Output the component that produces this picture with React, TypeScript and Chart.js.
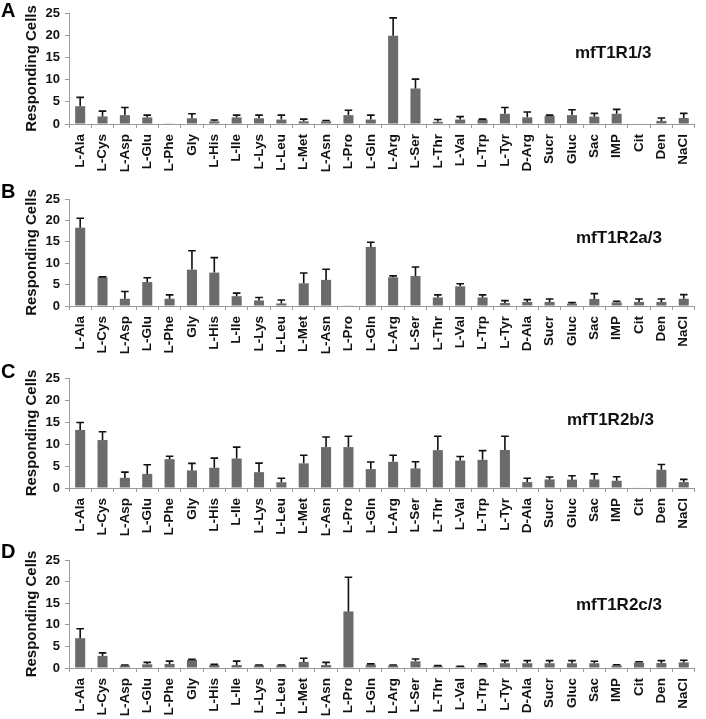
import React, { useEffect, useRef } from "react";
import { Chart, registerables } from "chart.js";

Chart.register(...registerables);

const FONT = '"Liberation Sans", Arial, Helvetica, sans-serif';

// ---------- data ----------
const categoriesA = [
  "L-Ala", "L-Cys", "L-Asp", "L-Glu", "L-Phe", "Gly", "L-His", "L-Ile", "L-Lys", "L-Leu",
  "L-Met", "L-Asn", "L-Pro", "L-Gln", "L-Arg", "L-Ser", "L-Thr", "L-Val", "L-Trp", "L-Tyr",
  "D-Arg", "Sucr", "Gluc", "Sac", "IMP", "Cit", "Den", "NaCl",
];
const categoriesBCD = [
  "L-Ala", "L-Cys", "L-Asp", "L-Glu", "L-Phe", "Gly", "L-His", "L-Ile", "L-Lys", "L-Leu",
  "L-Met", "L-Asn", "L-Pro", "L-Gln", "L-Arg", "L-Ser", "L-Thr", "L-Val", "L-Trp", "L-Tyr",
  "D-Ala", "Sucr", "Gluc", "Sac", "IMP", "Cit", "Den", "NaCl",
];
const yTickValues = [0, 5, 10, 15, 20, 25];

const meansA = [4.0, 1.7, 2.0, 1.5, 0.15, 1.3, 0.6, 1.5, 1.3, 1.0, 0.6, 0.6, 2.0, 1.0, 19.9, 8.0, 0.5, 1.0, 1.0, 2.3, 1.5, 1.8, 2.0, 1.65, 2.3, 0.1, 0.7, 1.35];
const semsA = [2.0, 1.2, 1.7, 0.5, 0, 1.0, 0.3, 0.5, 0.7, 1.0, 0.5, 0.2, 1.1, 1.0, 4.0, 2.1, 0.5, 0.65, 0.1, 1.4, 1.2, 0.2, 1.2, 0.75, 1.0, 0, 0.65, 1.05];

const meansB = [18.3, 6.7, 1.7, 5.6, 1.7, 8.5, 7.8, 2.3, 1.3, 0.6, 5.3, 6.1, 0.15, 13.8, 6.7, 7.0, 2.0, 4.6, 2.0, 0.7, 0.95, 0.95, 0.55, 1.65, 0.85, 0.95, 0.95, 1.7];
const semsB = [2.2, 0.1, 1.7, 1.0, 0.9, 4.4, 3.5, 0.7, 0.7, 0.8, 2.4, 2.5, 0, 1.1, 0.35, 2.1, 0.6, 0.6, 0.6, 0.55, 0.55, 0.7, 0.25, 1.25, 0.25, 0.7, 0.7, 0.95];

const meansC = [13.2, 10.9, 2.3, 3.2, 6.55, 4.0, 4.6, 6.7, 3.6, 1.3, 5.6, 9.3, 9.3, 4.3, 5.95, 4.45, 8.6, 6.25, 6.4, 8.65, 1.35, 1.95, 1.9, 1.95, 1.65, 0.1, 4.15, 1.35];
const semsC = [1.7, 1.9, 1.3, 2.1, 0.65, 1.6, 2.2, 2.6, 2.05, 0.9, 1.85, 2.3, 2.45, 1.6, 1.5, 1.5, 3.15, 0.9, 2.1, 3.1, 0.85, 0.55, 0.9, 1.25, 0.9, 0, 1.2, 0.6];

const meansD = [6.9, 2.8, 0.55, 0.85, 0.95, 1.85, 0.7, 0.7, 0.6, 0.6, 1.4, 0.7, 13.1, 0.8, 0.55, 1.55, 0.4, 0.3, 0.8, 1.1, 1.1, 1.1, 1.1, 1.1, 0.6, 1.25, 1.15, 1.3];
const semsD = [2.2, 0.7, 0.15, 0.45, 0.65, 0.15, 0.15, 0.9, 0.1, 0.1, 0.85, 0.6, 7.9, 0.15, 0.15, 0.55, 0.15, 0.1, 0.15, 0.6, 0.6, 0.6, 0.6, 0.45, 0.15, 0.2, 0.55, 0.5];

const yAxisTitle = "Responding Cells";

type PanelProps = {
  top: number;
  height: number;
  padTop: number;
  axisHeight: number;
  labels: string[];
  means: number[];
  sems: number[];
  letter: string;
  letterTop: number;
  name: string;
  nameLeft: number;
  nameTop: number;
};

function Panel(p: PanelProps) {
  const ref = useRef<HTMLCanvasElement>(null);
  useEffect(() => {
    if (!ref.current) return;
    const errorBars = {
      id: "errorBars",
      afterDatasetsDraw(chart: any) {
        const meta = chart.getDatasetMeta(0);
        const ys = chart.scales.y;
        const ctx = chart.ctx;
        ctx.save();
        ctx.strokeStyle = "#111";
        ctx.lineWidth = 1.6;
        meta.data.forEach((bar: any, i: number) => {
          const s = p.sems[i];
          if (!s) return;
          const x = bar.x;
          const y0 = ys.getPixelForValue(p.means[i]);
          const y1 = ys.getPixelForValue(p.means[i] + s);
          ctx.beginPath();
          ctx.moveTo(x, y0);
          ctx.lineTo(x, y1);
          ctx.moveTo(x - 3.8, y1);
          ctx.lineTo(x + 3.8, y1);
          ctx.stroke();
        });
        ctx.restore();
      },
    };
    const chart = new Chart(ref.current, {
      type: "bar",
      data: {
        labels: p.labels,
        datasets: [
          {
            data: p.means,
            backgroundColor: "#6b6b6b",
            barPercentage: 0.45,
            categoryPercentage: 1,
          },
        ],
      },
      options: {
        animation: false,
        responsive: false,
        maintainAspectRatio: false,
        devicePixelRatio: 1,
        layout: { padding: { top: p.padTop, right: 3, left: 0, bottom: 0 } },
        plugins: { legend: { display: false }, tooltip: { enabled: false } },
        scales: {
          x: {
            offset: true,
            grid: { offset: true, drawOnChartArea: false, drawTicks: true, tickLength: 4, color: "#9a9a9a" },
            border: { color: "#9a9a9a", width: 1 },
            ticks: {
              autoSkip: false,
              maxRotation: 90,
              minRotation: 90,
              padding: 6,
              color: "#111",
              font: { family: FONT, size: 13.5, weight: "bold" },
            },
            afterFit(s: any) {
              s.height = p.axisHeight;
            },
          },
          y: {
            min: 0,
            max: 25,
            afterBuildTicks(s: any) {
              s.ticks = yTickValues.map((v) => ({ value: v }));
            },
            grid: { drawOnChartArea: false, drawTicks: true, tickLength: 4, color: "#9a9a9a" },
            border: { color: "#9a9a9a", width: 1 },
            ticks: { padding: 5, color: "#111", font: { family: FONT, size: 13, weight: "bold" } },
            title: {
              display: true,
              text: yAxisTitle,
              color: "#111",
              font: { family: FONT, size: 15, weight: "bold" },
              padding: { top: 23, bottom: 0 },
            },
            afterFit(s: any) {
              s.width = 69;
            },
          },
        },
      },
      plugins: [errorBars],
    } as any);
    return () => chart.destroy();
  }, []);

  return (
    <div style={{ position: "absolute", left: 0, top: p.top, width: 706, height: p.height }}>
      <canvas ref={ref} width={706} height={p.height} style={{ display: "block", width: 706, height: p.height }} />
      <div
        style={{
          position: "absolute",
          left: 1,
          top: p.letterTop,
          fontFamily: FONT,
          fontWeight: "bold",
          fontSize: 20,
          lineHeight: "20px",
          color: "#000",
        }}
      >
        {p.letter}
      </div>
      <div
        style={{
          position: "absolute",
          left: p.nameLeft,
          top: p.nameTop,
          fontFamily: FONT,
          fontWeight: "bold",
          fontSize: 17,
          lineHeight: "17px",
          color: "#111",
          whiteSpace: "nowrap",
        }}
      >
        {p.name}
      </div>
    </div>
  );
}

export default function App() {
  return (
    <div style={{ position: "absolute", left: 0, top: 0, width: 706, height: 719, background: "#fff", overflow: "hidden" }}>
      <Panel top={0} height={180} padTop={13} axisHeight={56} labels={categoriesA} means={meansA} sems={semsA}
        letter="A" letterTop={0} name="mfT1R1/3" nameLeft={575} nameTop={44} />
      <Panel top={170} height={190} padTop={29} axisHeight={54} labels={categoriesBCD} means={meansB} sems={semsB}
        letter="B" letterTop={11} name="mfT1R2a/3" nameLeft={576} nameTop={59} />
      <Panel top={350} height={190} padTop={28} axisHeight={52} labels={categoriesBCD} means={meansC} sems={semsC}
        letter="C" letterTop={11} name="mfT1R2b/3" nameLeft={567} nameTop={61} />
      <Panel top={530} height={189} padTop={30} axisHeight={51} labels={categoriesBCD} means={meansD} sems={semsD}
        letter="D" letterTop={11} name="mfT1R2c/3" nameLeft={576} nameTop={66} />
    </div>
  );
}
